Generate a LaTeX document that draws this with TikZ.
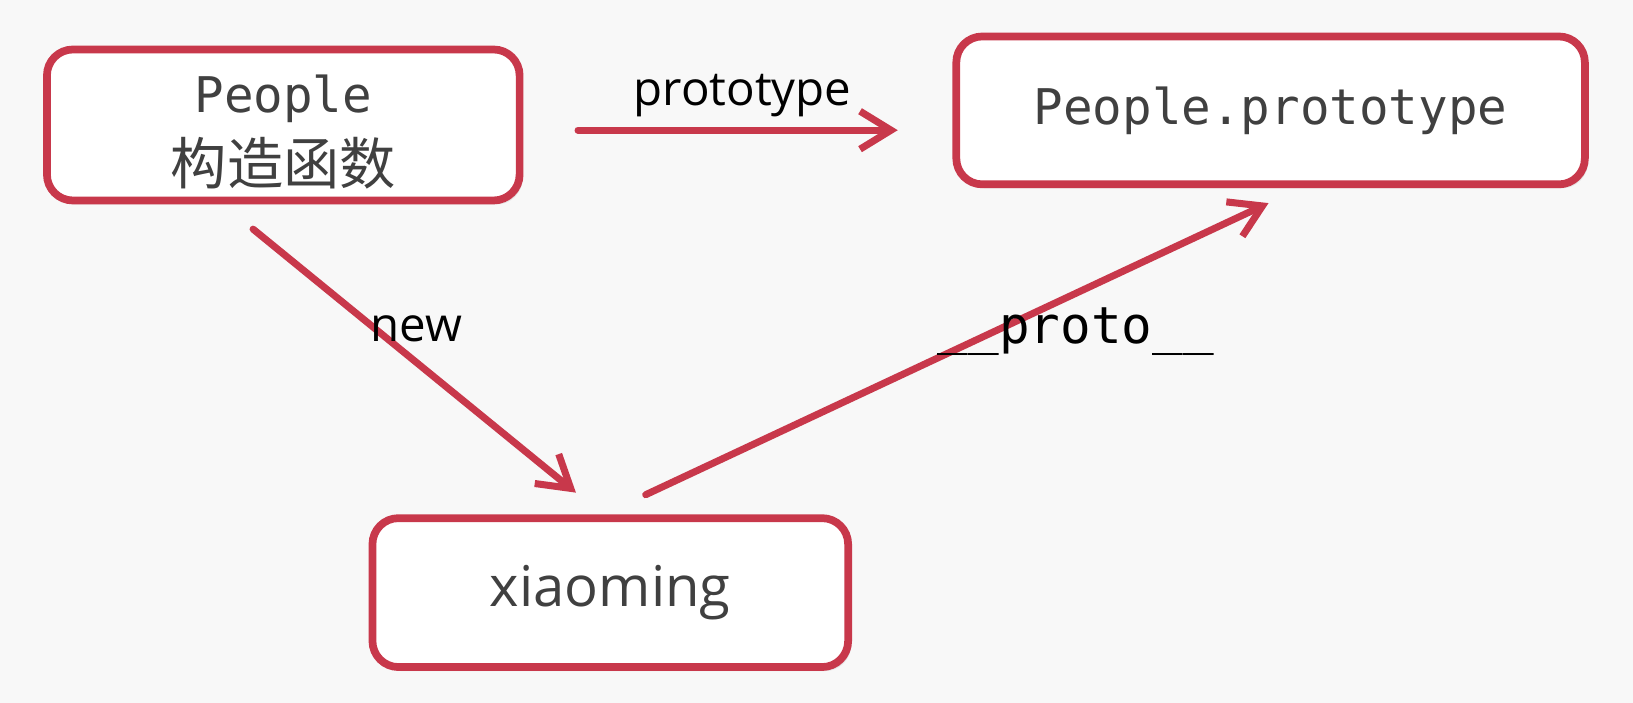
\documentclass[tikz,border=0pt]{standalone}
\usepackage{fontspec}
\setmainfont{Open Sans}
\newfontfamily\monofont{DejaVu Sans Mono}
\newfontfamily\cjkfont{Noto Sans CJK SC}
\usetikzlibrary{arrows.meta,shadows}

\definecolor{boxred}{RGB}{200,56,75}
\definecolor{txtgray}{RGB}{64,64,64}
\definecolor{bggray}{RGB}{248,248,248}

\tikzset{
  objbox/.style={rectangle, rounded corners=0.26cm, draw=boxred, line width=2.2pt, fill=white, text=txtgray, align=center,
    drop shadow={shadow xshift=0.03cm, shadow yshift=-0.04cm, opacity=0.15}},
  link/.style={draw=boxred, line width=2pt, line cap=round, line join=round, -{Straight Barb[length=3.1mm,width=3.8mm]}},
  lbl/.style={text=black, inner sep=0pt}
}

\begin{document}
\begin{tikzpicture}[x=0.010415cm, y=-0.010415cm]
\fill[bggray] (0,0) rectangle (1568,675);
\useasboundingbox (0,0) rectangle (1568,675);

\node (people) at (272,120) [objbox, minimum width=4.73cm, minimum height=1.45cm, font=\fontsize{16}{20.5}\selectfont]
  {\rule{0pt}{14.5pt}{\fontsize{14}{20.5}\selectfont\monofont People}\\{\cjkfont 构造函数}};
\node (proto) at (1220,106) [objbox, minimum width=6.29cm, minimum height=1.48cm]
  {\fontsize{14}{17}\selectfont\monofont People.prototype};
\node (xm) at (586,569) [objbox, minimum width=4.76cm, minimum height=1.49cm]
  {\fontsize{16}{19}\selectfont xiaoming};

\coordinate (p1) at (555,125);
\coordinate (p2) at (862,125);
\coordinate (n1) at (243,220);
\coordinate (n2) at (553,473);
\coordinate (q1) at (620,475);
\coordinate (q2) at (1218,195);

\draw[link] (p1) -- (p2);
\draw[link] (n1) -- (n2);
\draw[link] (q1) -- (q2);

\node (lproto) at (713,92) [lbl] {\fontsize{13.5}{16}\selectfont prototype};
\node (lnew) at (400,316) [lbl] {\fontsize{13.5}{16}\selectfont new};
\node (lpp) at (1033,318) [lbl] {\fontsize{14.5}{17}\selectfont\monofont \_\_proto\_\_};
\end{tikzpicture}
\end{document}
